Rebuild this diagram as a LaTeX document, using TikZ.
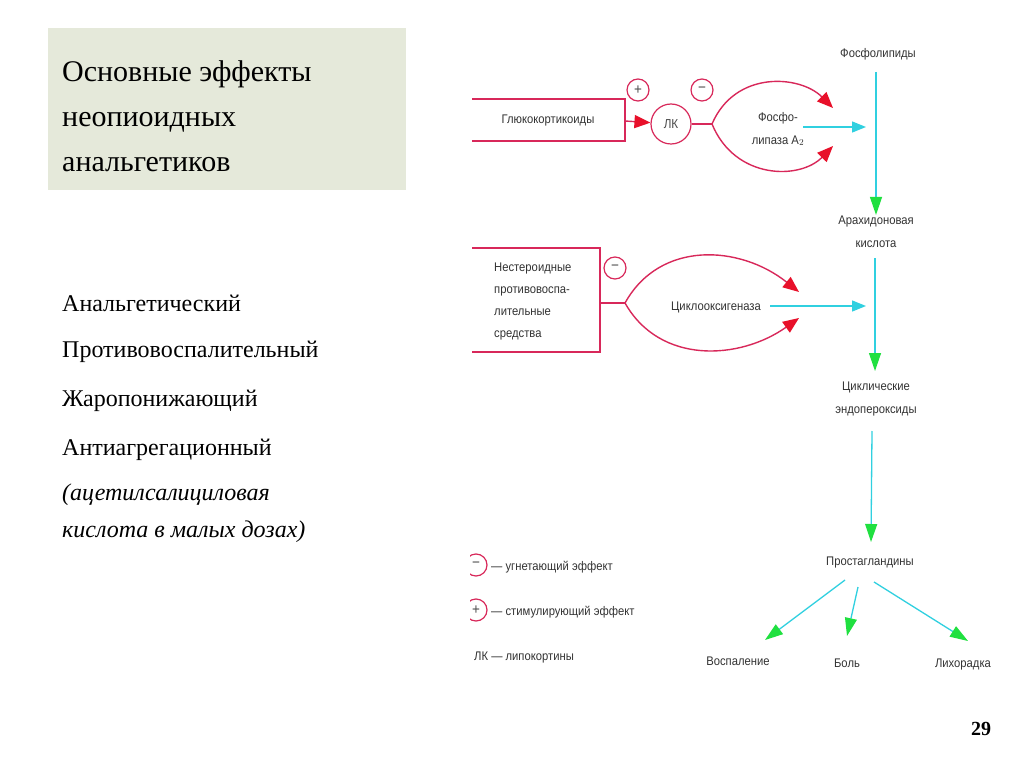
\documentclass[tikz,border=0pt]{standalone}
\usepackage{fontspec}
\setmainfont{Liberation Serif}
\newfontfamily\dia{Liberation Sans}[FakeStretch=0.9]
\usetikzlibrary{arrows.meta}
\definecolor{pk}{HTML}{D8285A}
\definecolor{rd}{HTML}{E8102A}
\definecolor{cy}{HTML}{30D0E0}
\definecolor{gr}{HTML}{20E040}
\definecolor{tb}{HTML}{E5E9DA}
\begin{document}
\begin{tikzpicture}[x=1pt,y=-1pt,
  lbl/.style={font=\dia\fontsize{12.5}{23}\selectfont,text=black!80,align=center,inner sep=1pt},
  pline/.style={draw=pk,line width=1.4pt},
  redarr/.style={pline,-{Triangle[length=16pt,width=13pt,fill=rd,color=rd]}},
  cyarr/.style={draw=cy,line width=1.3pt,-{Triangle[length=14pt,width=11pt,color=cy]}},
  vgarr/.style={draw=cy,line width=1.3pt,-{Triangle[length=18pt,width=12pt,color=gr]}},
  sgn/.style={circle,draw=pk,line width=1.2pt,minimum size=22pt,inner sep=0pt,font=\dia\fontsize{15}{15}\selectfont,text=black!70},
  tl/.style={anchor=base west,inner sep=0pt,font=\fontsize{30}{36}\selectfont},
  li/.style={anchor=base west,inner sep=0pt,font=\fontsize{24}{28}\selectfont}]
\useasboundingbox (0,0) rectangle (1024,767);
\fill[white] (0,0) rectangle (1024,767);
\node[fill=tb,minimum width=358pt,minimum height=162pt,anchor=north west] (tbox) at (48,28) {};
\node[tl] (ti1) at (62,82) {Основные эффекты};
\node[tl] (ti2) at (62,127) {неопиоидных};
\node[tl] (ti3) at (62,172) {анальгетиков};
\node[li] (l1) at (62,311) {Анальгетический};
\node[li] (l2) at (62,357) {Противовоспалительный};
\node[li] (l3) at (62,406) {Жаропонижающий};
\node[li] (l4) at (62,455) {Антиагрегационный};
\node[li,font=\itshape\fontsize{24}{28}\selectfont] (l5) at (62,500) {(ацетилсалициловая};
\node[li,font=\itshape\fontsize{24}{28}\selectfont] (l6) at (62,537) {кислота в малых дозах)};
\node[font=\bfseries\fontsize{20}{22}\selectfont] (pg) at (981,729) {29};
% glucocorticoid box
\draw[pline] (472,99) -- (625,99) -- (625,141) -- (472,141);
\node[lbl] (gk) at (548,120) {Глюкокортикоиды};
\node[sgn,minimum size=40pt,font=\dia\fontsize{13}{13}\selectfont] (lk) at (671,124) {ЛК};
\draw[redarr] (625,121) -- (lk);
\node[sgn] (plus) at (638,90) {+};
\node[sgn] (m1) at (702,90) {−};
\coordinate (s1) at (712,124);
\draw[pline] (lk) -- (s1);
\coordinate (e1a) at (833,108);
\coordinate (e1b) at (833,146);
\draw[redarr] (s1) .. controls (735,70) and (800,75) .. (e1a);
\draw[redarr] (s1) .. controls (735,180) and (800,180) .. (e1b);
\node[lbl] (pla) at (778,129) {Фосфо-\\липаза А$_2$};
\coordinate (c1a) at (803,127);
\coordinate (c1b) at (866,127);
\draw[cyarr] (c1a) -- (c1b);
\node[lbl] (fl) at (878,54) {Фосфолипиды};
\node[lbl] (ak) at (876,232) {Арахидоновая\\кислота};
\draw[vgarr] (876,72) -- (ak.north);
% NSAID box
\draw[pline] (472,248) -- (600,248) -- (600,352) -- (472,352);
\node[lbl,align=left,anchor=west,font=\dia\fontsize{12.5}{22}\selectfont] (ns) at (493,301) {Нестероидные\\противовоспа-\\лительные\\средства};
\node[sgn] (m2) at (615,268) {−};
\coordinate (s2) at (625,303);
\draw[pline] (600,303) -- (s2);
\coordinate (e2a) at (799,292);
\coordinate (e2b) at (799,318);
\draw[redarr] (s2) .. controls (660,240) and (740,245) .. (e2a);
\draw[redarr] (s2) .. controls (660,365) and (740,360) .. (e2b);
\node[lbl] (cox) at (716,307) {Циклооксигеназа};
\coordinate (c2a) at (770,306);
\coordinate (c2b) at (866,306);
\draw[cyarr] (c2a) -- (c2b);
\node[lbl] (ce) at (876,399) {Циклические\\эндопероксиды};
\draw[vgarr] (875,258) -- (875,371);
\node[lbl] (pg2) at (870,562) {Простагландины};
\draw[vgarr] (872,431) -- (871,542);
\node[lbl] (vos) at (738,661) {Воспаление};
\node[lbl] (bol) at (847,663) {Боль};
\node[lbl] (lih) at (963,664) {Лихорадка};
\draw[vgarr] (845,580) -- (765,640);
\draw[vgarr] (858,587) -- (847,636);
\draw[vgarr] (874,582) -- (968,641);
% legend
\begin{scope}
\clip (470,540) rectangle (700,700);
\node[sgn] (lg1) at (476,565) {−};
\node[sgn] (lg2) at (476,610) {+};
\end{scope}
\node[lbl,anchor=west] (t1) at (490,567) {— угнетающий эффект};
\node[lbl,anchor=west] (t2) at (490,612) {— стимулирующий эффект};
\node[lbl,anchor=west] (t3) at (473,657) {ЛК — липокортины};
\end{tikzpicture}
\end{document}
